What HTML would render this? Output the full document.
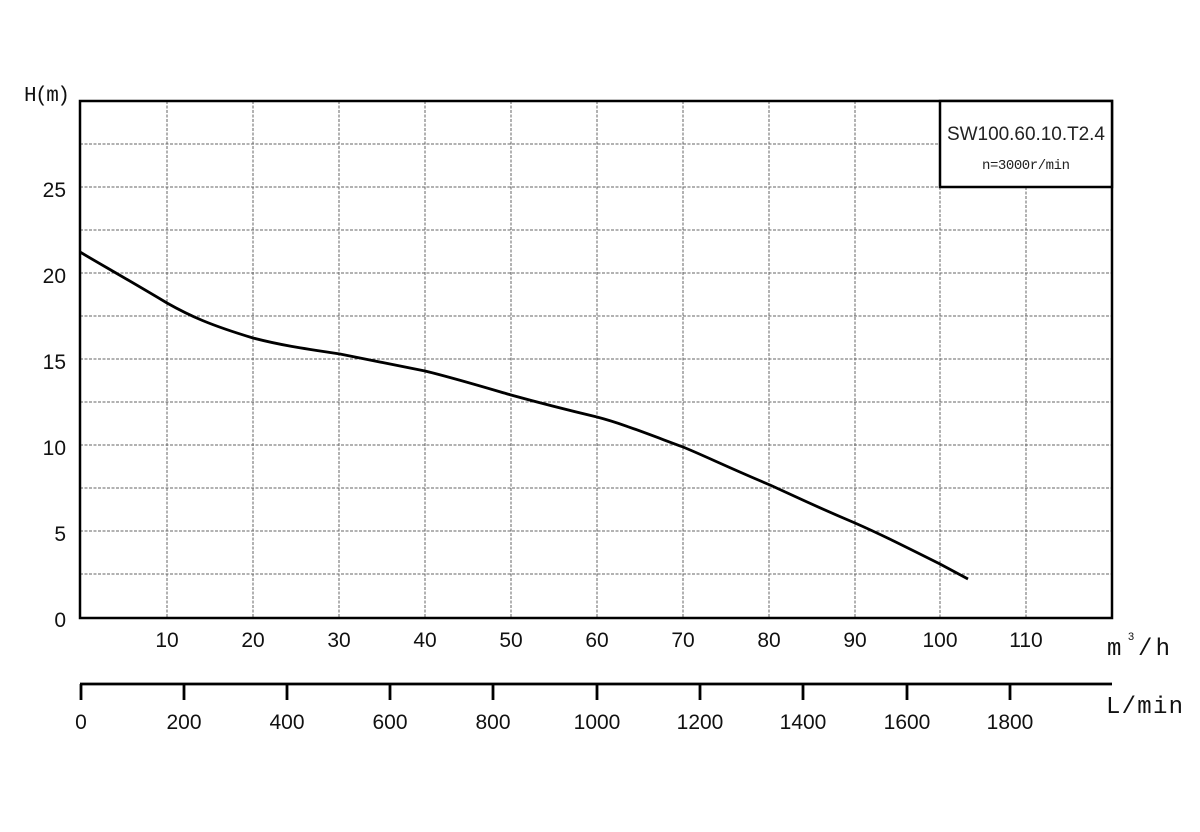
<!DOCTYPE html>
<html><head><style>body{margin:0;background:#fff}svg{display:block}</style></head><body>
<svg width="1200" height="832" xmlns="http://www.w3.org/2000/svg" font-family="Liberation Sans, sans-serif">
<rect width="1200" height="832" fill="#fff"/>
<g stroke="#666" stroke-width="1" stroke-dasharray="3,1.5" fill="none">
<path d="M167 101V618M253 101V618M339 101V618M425 101V618M511 101V618M597 101V618M683 101V618M769 101V618M855 101V618M940 187V618M1026 187V618"/>
<path d="M80 144H940M80 187H940M80 230H1112M80 273H1112M80 316H1112M80 359H1112M80 402H1112M80 445H1112M80 488H1112M80 531H1112M80 574H1112"/>
</g>
<rect x="80" y="101" width="1032" height="517" fill="none" stroke="#000" stroke-width="2.5"/>
<rect x="940" y="101" width="172" height="86" fill="#fff" stroke="#000" stroke-width="2.5"/>
<text x="1026" y="140" font-size="19" text-anchor="middle" fill="#222" textLength="158">SW100.60.10.T2.4</text>
<text x="1026" y="169" font-size="14" text-anchor="middle" fill="#222" font-family="Liberation Mono, monospace" textLength="88">n=3000r/min</text>
<path d="M80 252 C100 264,120 275,167 303 C190 316,210 325,253 338 C280 345,300 348,340 354 C360 358,380 362,425 371 C450 377,470 383,511 395 C540 403,555 407,597 417 C620 423,640 431,683 447 C705 456,725 466,770 485 C790 494,810 504,855 523 C880 534,900 544,940 564 L968 579" fill="none" stroke="#000" stroke-width="2.8"/>
<g font-size="21" fill="#111" text-anchor="end">
<text x="66" y="627">0</text><text x="66" y="541">5</text><text x="66" y="455">10</text><text x="66" y="369">15</text><text x="66" y="283">20</text><text x="66" y="197">25</text>
</g>
<text x="24" y="101" font-size="21" fill="#111" font-family="Liberation Mono, monospace" textLength="46">H(m)</text>
<g font-size="21" fill="#111" text-anchor="middle">
<text x="167" y="647">10</text><text x="253" y="647">20</text><text x="339" y="647">30</text><text x="425" y="647">40</text><text x="511" y="647">50</text><text x="597" y="647">60</text><text x="683" y="647">70</text><text x="769" y="647">80</text><text x="855" y="647">90</text><text x="940" y="647">100</text><text x="1026" y="647">110</text>
</g>
<text x="1107" y="655" font-size="24" fill="#111" font-family="Liberation Mono, monospace">m</text>
<text x="1128" y="640" font-size="11" fill="#111">3</text>
<text x="1138" y="655" font-size="24" fill="#111" font-family="Liberation Mono, monospace" textLength="32">/h</text>
<path d="M80 684H1112M81 684V700M184 684V700M287 684V700M390 684V700M493 684V700M597 684V700M700 684V700M803 684V700M907 684V700M1010 684V700" stroke="#000" stroke-width="2.8" fill="none"/>
<g font-size="21" fill="#111" text-anchor="middle">
<text x="81" y="729">0</text><text x="184" y="729">200</text><text x="287" y="729">400</text><text x="390" y="729">600</text><text x="493" y="729">800</text><text x="597" y="729">1000</text><text x="700" y="729">1200</text><text x="803" y="729">1400</text><text x="907" y="729">1600</text><text x="1010" y="729">1800</text>
</g>
<text x="1106" y="713" font-size="24" fill="#111" font-family="Liberation Mono, monospace" textLength="77">L/min</text>
</svg>
</body></html>
